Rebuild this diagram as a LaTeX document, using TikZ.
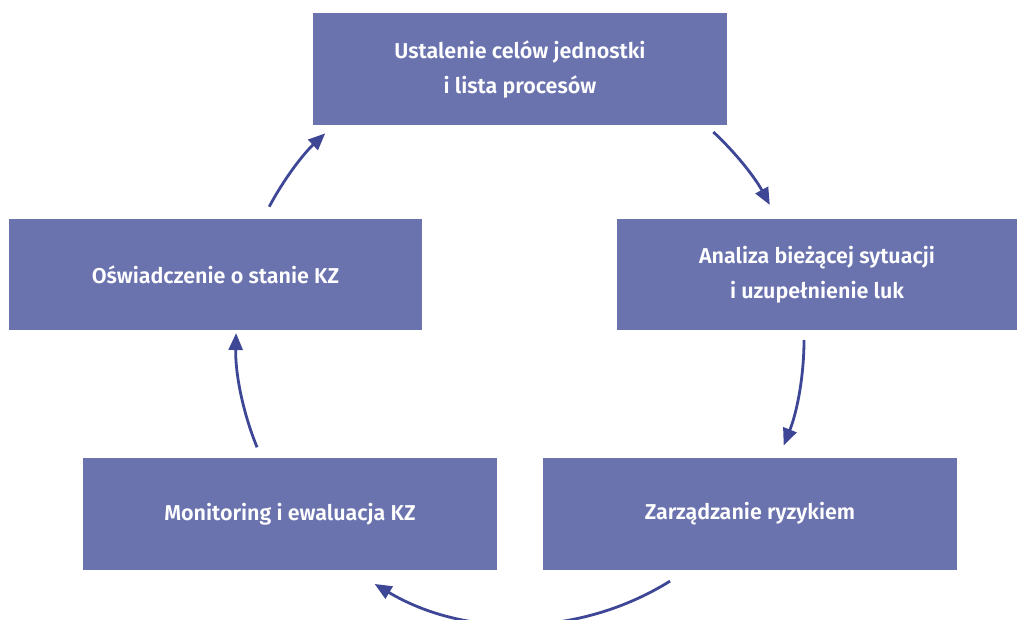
\documentclass[tikz,border=0pt]{standalone}
\usepackage{fontspec}
\setmainfont{Fira Sans}[BoldFont={Fira Sans SemiBold}]
\usetikzlibrary{arrows.meta,calc}
\definecolor{stageblue}{RGB}{107,115,175}
\definecolor{cycleblue}{RGB}{61,71,150}
\newcommand*{\CycleRadius}{284}

\begin{document}
\begin{tikzpicture}[x=1pt,y=1pt,>={Triangle[length=17pt,width=14pt]},
  stage/.style={fill=stageblue,text=white,font=\bfseries\fontsize{21.5}{35}\selectfont,
    align=center,minimum width=414pt,minimum height=112pt,inner sep=0pt},
  cyc/.style={->,draw=cycleblue,line width=2.8pt}]
\useasboundingbox (0,0) rectangle (1017,619);
\clip (0,0) rectangle (1017,619);
\coordinate (M) at (520,279);
\node[stage] (S1) at (520,550) {Ustalenie celów jednostki\\i lista procesów};
\node[stage,minimum width=400pt,minimum height=111pt] (S2) at (817,344.5) {Analiza bieżącej sytuacji\\i uzupełnienie luk};
\node[stage] (S3) at (750,105) {Zarządzanie ryzykiem};
\node[stage] (S4) at (290,105) {Monitoring i ewaluacja KZ};
\node[stage,minimum width=413pt,minimum height=111pt] (S5) at (215.5,344.5) {Oświadczenie o stanie KZ};
\draw[cyc] ($(M)+(47.1:\CycleRadius)$) arc[start angle=47.1,end angle=28.4,radius=\CycleRadius];
\draw[cyc] ($(M)+(0:\CycleRadius)$) arc[start angle=0,end angle=-21.8,radius=\CycleRadius];
\draw[cyc] ($(M)+(-58.1:\CycleRadius)$) arc[start angle=-58.1,end angle=-120.8,radius=\CycleRadius];
\draw[cyc] ($(M)+(-157.8:\CycleRadius)$) arc[start angle=-157.8,end angle=-181.4,radius=\CycleRadius];
\draw[cyc] ($(M)+(-208:\CycleRadius)$) arc[start angle=-208,end angle=-226.7,radius=\CycleRadius];
\end{tikzpicture}
\end{document}
